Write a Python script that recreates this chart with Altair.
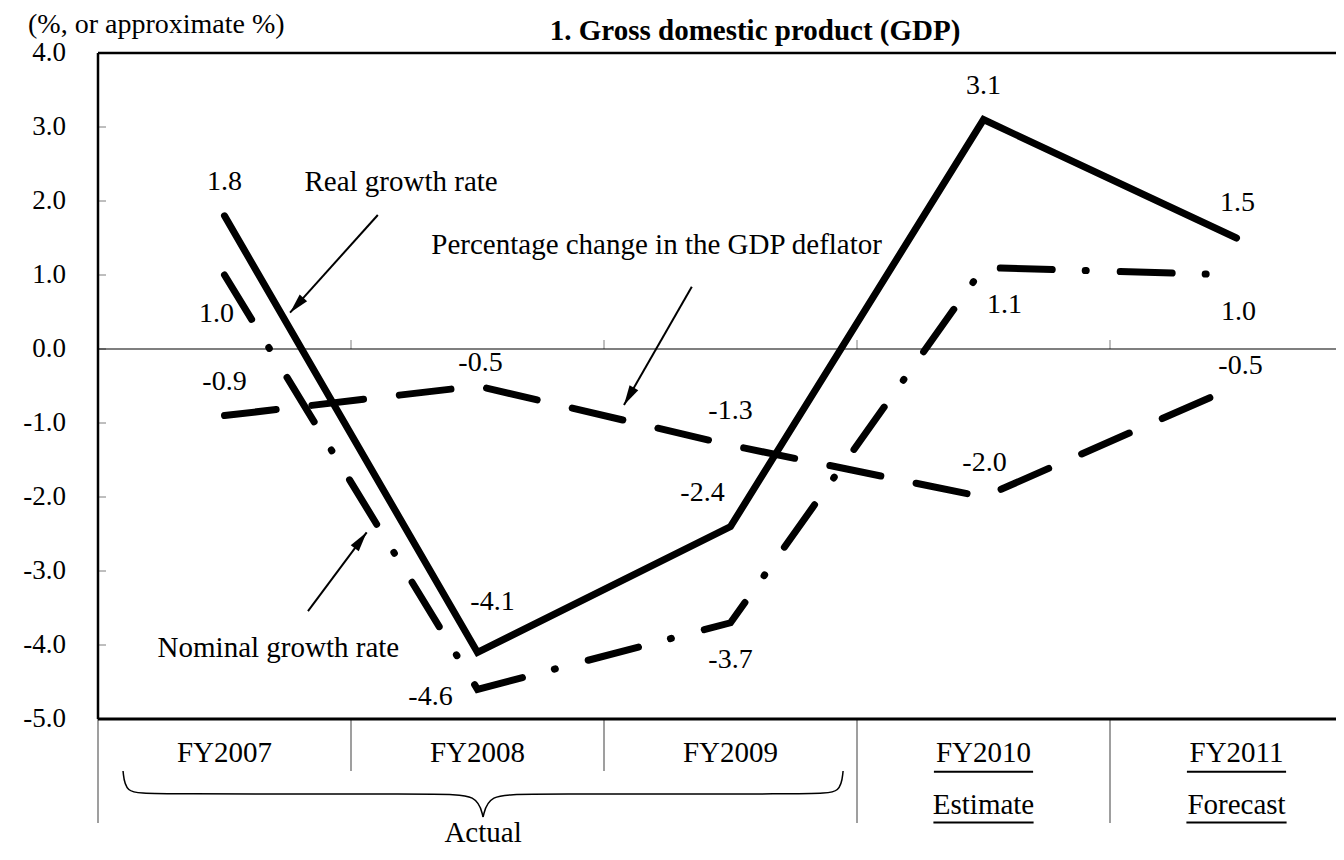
import math
import altair as alt
import pandas as pd

# ---------------- data ----------------
categories = ["FY2007", "FY2008", "FY2009", "FY2010", "FY2011"]
sub_labels = ["", "", "", "Estimate", "Forecast"]
real_growth = [1.8, -4.1, -2.4, 3.1, 1.5]
nominal_growth = [1.0, -4.6, -3.7, 1.1, 1.0]
deflator_change = [-0.9, -0.5, -1.3, -2.0, -0.5]
y_tick_values = [4.0, 3.0, 2.0, 1.0, 0.0, -1.0, -2.0, -3.0, -4.0, -5.0]

title_text = "1. Gross domestic product (GDP)"
unit_text = "(%, or approximate %)"
group_text = "Actual"
annotation_texts = ["Real growth rate", "Percentage change in the GDP deflator", "Nominal growth rate"]

# ---------------- layout / style ----------------
PLOT_W = 1238
PLOT_H = 666
BAND_PX = 253
X_MIN = -0.5
X_MAX = X_MIN + PLOT_W / BAND_PX
Y_MIN, Y_MAX = -5.0, 4.0
PX_Y = PLOT_H / (Y_MAX - Y_MIN)
FONT = "Liberation Serif"
FS = 29
FS_LAB = 28

# label offsets in px (dx, dy) per point
real_off = [(0, -34), (15, -50), (-28, -34), (0, -34), (1, -35)]
nom_off = [(-8, 39), (-47, 8), (0, 37), (21, 37), (2, 37)]
defl_off = [(0, -34), (3, -23), (0, -34), (1, -34), (4, -20)]

# annotation positions (data units)
annotation_pos = [(0.698, 2.257), (1.708, 1.405), (0.213, -4.041)]
# arrows: start -> tip (data units)
arrows = [((0.606, 1.811), (0.259, 0.491)),
          ((1.847, 0.842), (1.579, -0.757)),
          ((0.330, -3.541), (0.562, -2.477))]

# brace halves (data units)
brace_left = [(-0.401, -5.703), (-0.392, -6.000), (-0.300, -6.014), (0.852, -6.014), (1.000, -6.020), (1.022, -6.324)]
brace_right = [(1.022, -6.324), (1.044, -6.020), (1.192, -6.014), (2.344, -6.014), (2.436, -6.000), (2.445, -5.703)]

CAT_Y = -5.459
SUB_Y = -6.162
ACTUAL_Y = -6.545
UL1_Y = -5.712
UL2_Y = -6.399
SEP_SHORT = -5.703
SEP_LONG = -6.405
TOP_TEXT_Y = 4.30

xs = alt.Scale(domain=[X_MIN, X_MAX], nice=False, zero=False)
ys = alt.Scale(domain=[Y_MIN, Y_MAX], nice=False, zero=False)


def X(f="x"):
    return alt.X(f"{f}:Q", scale=xs, axis=None)


def Y(f="y"):
    return alt.Y(f"{f}:Q", scale=ys, axis=None)


idx = list(range(len(categories)))

# ---------------- lines ----------------
def sdf(vals):
    return pd.DataFrame({"x": idx, "y": vals})

real_line = alt.Chart(sdf(real_growth)).mark_line(
    color="black", strokeWidth=7, strokeCap="round", strokeJoin="miter"
).encode(x=X(), y=Y())

defl_line = alt.Chart(sdf(deflator_change)).mark_line(
    color="black", strokeWidth=7, strokeCap="round", strokeJoin="miter", strokeDash=[52, 36]
).encode(x=X(), y=Y())

nom_line = alt.Chart(sdf(nominal_growth)).mark_line(
    color="black", strokeWidth=7, strokeCap="round", strokeJoin="miter", strokeDash=[52, 33, 1, 34]
).encode(x=X(), y=Y())

# ---------------- data labels ----------------
lab_rows = []
for vals, offs in [(real_growth, real_off), (nominal_growth, nom_off), (deflator_change, defl_off)]:
    for i, (v, (dx, dy)) in enumerate(zip(vals, offs)):
        lab_rows.append({"x": i + dx / BAND_PX, "y": v - dy / PX_Y, "t": f"{v:.1f}"})
data_labels = alt.Chart(pd.DataFrame(lab_rows)).mark_text(
    font=FONT, fontSize=FS_LAB, color="black", baseline="middle", align="center"
).encode(x=X(), y=Y(), text="t:N")

# ---------------- rules ----------------
black_rules = []
black_rules.append({"x": X_MIN, "x2": X_MAX, "y": Y_MAX, "y2": Y_MAX, "w": 2.5})
black_rules.append({"x": X_MIN, "x2": X_MAX, "y": Y_MIN, "y2": Y_MIN, "w": 3})
black_rules.append({"x": X_MIN, "x2": X_MIN, "y": Y_MIN, "y2": Y_MAX, "w": 2.5})
black_rules.append({"x": X_MIN, "x2": X_MAX, "y": 0, "y2": 0, "w": 1.2})
for (s, t) in arrows:
    black_rules.append({"x": s[0], "x2": t[0], "y": s[1], "y2": t[1], "w": 2})
for i in [3, 4]:
    black_rules.append({"x": i - 0.196, "x2": i + 0.196, "y": UL1_Y, "y2": UL1_Y, "w": 2})
    black_rules.append({"x": i - 0.198, "x2": i + 0.198, "y": UL2_Y, "y2": UL2_Y, "w": 2})

gray_rules = []
for v in y_tick_values[1:-1]:
    gray_rules.append({"x": X_MIN, "x2": X_MIN + 8 / BAND_PX, "y": v, "y2": v, "w": 1})
for b in [0.5, 1.5, 2.5, 3.5]:
    gray_rules.append({"x": b, "x2": b, "y": 0, "y2": 9 / PX_Y, "w": 1})
for b in [0.5, 1.5]:
    gray_rules.append({"x": b, "x2": b, "y": Y_MIN, "y2": SEP_SHORT, "w": 1.5})
for b in [X_MIN, 2.5, 3.5]:
    gray_rules.append({"x": b, "x2": b, "y": Y_MIN, "y2": SEP_LONG, "w": 1.5})


def rule_layer(rows, color):
    return alt.Chart(pd.DataFrame(rows)).mark_rule(color=color).encode(
        x=X(), x2="x2:Q", y=Y(), y2="y2:Q",
        strokeWidth=alt.StrokeWidth("w:Q", scale=None),
    )

black_layer = rule_layer(black_rules, "black")
gray_layer = rule_layer(gray_rules, "#7f7f7f")

# ---------------- arrowheads ----------------
ah_rows = []
for (s, t) in arrows:
    dxp = (t[0] - s[0]) * BAND_PX
    dyp = -(t[1] - s[1]) * PX_Y
    ang = math.degrees(math.atan2(dxp, -dyp)) % 360
    ah_rows.append({"x": t[0], "y": t[1], "a": ang})
arrow_heads = alt.Chart(pd.DataFrame(ah_rows)).mark_point(
    shape="M0,0L-0.5,2L0.5,2Z", filled=True, size=400, color="black", opacity=1, strokeWidth=0
).encode(x=X(), y=Y(), angle=alt.Angle("a:Q", scale=None))

# ---------------- brace ----------------
br_rows = []
for part, pts in [("l", brace_left), ("r", brace_right)]:
    for k, (bx, by) in enumerate(pts):
        br_rows.append({"x": bx, "y": by, "part": part, "o": k})
brace = alt.Chart(pd.DataFrame(br_rows)).mark_line(
    color="black", strokeWidth=1.5, interpolate="basis"
).encode(x=X(), y=Y(), detail="part:N", order="o:Q")

# ---------------- texts ----------------
def text_layer(rows, **kw):
    props = dict(font=FONT, fontSize=FS, color="black", baseline="middle", align="center")
    props.update(kw)
    return alt.Chart(pd.DataFrame(rows)).mark_text(**props).encode(x=X(), y=Y(), text="t:N")

cat_text = text_layer([{"x": i, "y": CAT_Y, "t": c} for i, c in enumerate(categories)])
sub_text = text_layer([{"x": i, "y": SUB_Y, "t": s} for i, s in enumerate(sub_labels) if s])
actual_text = text_layer([{"x": 1.022, "y": ACTUAL_Y, "t": group_text}])
ann_text = text_layer([{"x": p[0], "y": p[1], "t": t} for p, t in zip(annotation_pos, annotation_texts)])
title = text_layer([{"x": 2.097, "y": TOP_TEXT_Y, "t": title_text}], fontWeight="bold")
unit = text_layer([{"x": X_MIN - 70 / BAND_PX, "y": TOP_TEXT_Y + 0.08, "t": unit_text}], align="left", fontSize=28)
ylabels = text_layer([{"x": X_MIN, "y": v, "t": f"{v:.1f}"} for v in y_tick_values],
                     align="right", dx=-32, fontSize=27)

chart = alt.layer(
    gray_layer, black_layer, brace, defl_line, nom_line, real_line, arrow_heads,
    data_labels, cat_text, sub_text, actual_text, ann_text, title, unit, ylabels,
).properties(
    width=PLOT_W, height=PLOT_H,
    padding={"left": 90, "top": 45, "right": 0, "bottom": 133},
    autosize=alt.AutoSizeParams(type="none"),
).configure_view(strokeWidth=0).configure(background="white")

chart.save("out.html", embed_options={"renderer": "svg", "actions": False})
